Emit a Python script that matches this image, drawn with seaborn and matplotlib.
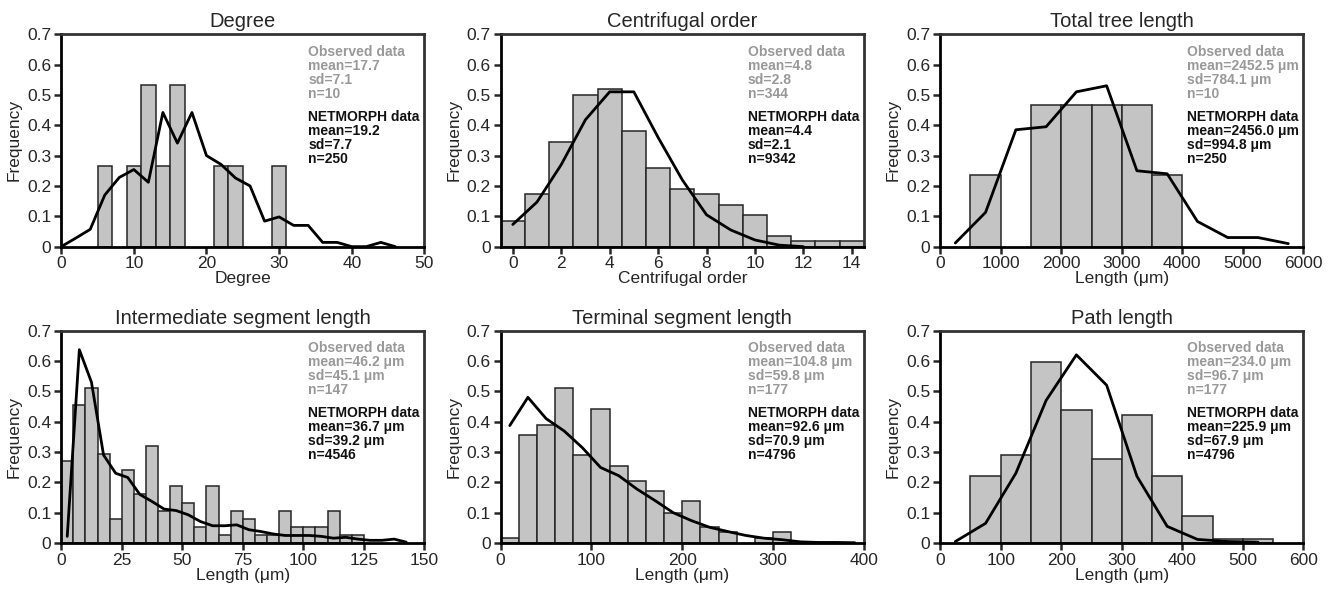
import numpy as np
import matplotlib
matplotlib.use("Agg")
import matplotlib.pyplot as plt
import seaborn as sns

sns.set_style("ticks")
plt.rcParams['font.family'] = ['Liberation Sans', 'DejaVu Sans']

# ---- Degree ----
deg_bin_centers = [6, 8, 10, 12, 14, 16, 18, 20, 22, 24, 26, 28, 30]
deg_bin_freq = [0.267, 0, 0.267, 0.533, 0.267, 0.533, 0, 0, 0.267, 0.267, 0, 0, 0.267]
deg_line_x = [0, 2, 4, 6, 8, 10, 12, 14, 16, 18, 20, 22, 24, 26, 28, 30, 32, 34, 36, 38, 40, 42, 44, 46]
deg_line_y = [0.0, 0.028, 0.057, 0.17, 0.228, 0.254, 0.212, 0.442, 0.341, 0.442, 0.30, 0.271,
              0.226, 0.20, 0.084, 0.098, 0.07, 0.07, 0.014, 0.014, 0.0, 0.0, 0.014, 0.0]

# ---- Centrifugal order ----
co_bin_centers = [0, 1, 2, 3, 4, 5, 6, 7, 8, 9, 10, 11, 12, 13, 14]
co_bin_freq = [0.086, 0.173, 0.346, 0.50, 0.52, 0.38, 0.26, 0.19, 0.173, 0.138, 0.104,
               0.035, 0.017, 0.017, 0.017]
co_line_x = [0, 1, 2, 3, 4, 5, 6, 7, 8, 9, 10, 11, 12]
co_line_y = [0.073, 0.147, 0.27, 0.418, 0.51, 0.51, 0.36, 0.22, 0.105, 0.055, 0.022, 0.005, 0.0]

# ---- Total tree length ----
ttl_bin_centers = [750, 1250, 1750, 2250, 2750, 3250, 3750]
ttl_bin_freq = [0.235, 0, 0.467, 0.467, 0.467, 0.467, 0.235]
ttl_line_x = [250, 750, 1250, 1750, 2250, 2750, 3250, 3750, 4250, 4750, 5250, 5750]
ttl_line_y = [0.012, 0.113, 0.385, 0.395, 0.51, 0.53, 0.25, 0.24, 0.083, 0.03, 0.03, 0.01]

# ---- Intermediate segment length ----
isl_bin_centers = [2.5, 7.5, 12.5, 17.5, 22.5, 27.5, 32.5, 37.5, 42.5, 47.5, 52.5, 57.5, 62.5,
                   67.5, 72.5, 77.5, 82.5, 87.5, 92.5, 97.5, 102.5, 107.5, 112.5, 117.5, 122.5]
isl_bin_freq = [0.27, 0.455, 0.51, 0.295, 0.08, 0.24, 0.16, 0.32, 0.107, 0.187, 0.133, 0.053,
                0.187, 0.027, 0.107, 0.08, 0.027, 0.027, 0.107, 0.053, 0.053, 0.053, 0.107,
                0.027, 0.027]
isl_line_x = [2.5, 7.5, 12.5, 17.5, 22.5, 27.5, 32.5, 37.5, 42.5, 47.5, 52.5, 57.5, 62.5, 67.5,
              72.5, 77.5, 82.5, 87.5, 92.5, 97.5, 102.5, 107.5, 112.5, 117.5, 122.5, 127.5,
              132.5, 137.5, 142.5]
isl_line_y = [0.022, 0.637, 0.53, 0.29, 0.23, 0.216, 0.16, 0.137, 0.112, 0.107, 0.093, 0.071,
              0.057, 0.057, 0.06, 0.044, 0.038, 0.03, 0.025, 0.025, 0.025, 0.022, 0.016, 0.019,
              0.013, 0.009, 0.009, 0.013, 0.003]

# ---- Terminal segment length ----
tsl_bin_centers = [10, 30, 50, 70, 90, 110, 130, 150, 170, 190, 210, 230, 250, 270, 290, 310]
tsl_bin_freq = [0.018, 0.357, 0.39, 0.51, 0.29, 0.443, 0.255, 0.205, 0.17, 0.10, 0.137,
                0.052, 0.035, 0, 0.017, 0.035]
tsl_line_x = [10, 30, 50, 70, 90, 110, 130, 150, 170, 190, 210, 230, 250, 270, 290, 310,
              330, 350, 370, 390]
tsl_line_y = [0.387, 0.48, 0.41, 0.369, 0.314, 0.249, 0.222, 0.178, 0.14, 0.10, 0.074, 0.052,
              0.038, 0.025, 0.016, 0.011, 0.004, 0.002, 0.002, 0.001]

# ---- Path length ----
pl_bin_centers = [75, 125, 175, 225, 275, 325, 375, 425, 475, 525]
pl_bin_freq = [0.22, 0.29, 0.597, 0.437, 0.277, 0.423, 0.22, 0.088, 0.015, 0.015]
pl_line_x = [25, 75, 125, 175, 225, 275, 325, 375, 425, 475, 525]
pl_line_y = [0.005, 0.065, 0.23, 0.47, 0.62, 0.52, 0.22, 0.055, 0.012, 0.005, 0.003]

titles = ["Degree", "Centrifugal order", "Total tree length",
          "Intermediate segment length", "Terminal segment length", "Path length"]
xlabels = ["Degree", "Centrifugal order", "Length (\u03bcm)",
           "Length (\u03bcm)", "Length (\u03bcm)", "Length (\u03bcm)"]
observed_stats = [
    ["Observed data", "mean=17.7", "sd=7.1", "n=10"],
    ["Observed data", "mean=4.8", "sd=2.8", "n=344"],
    ["Observed data", "mean=2452.5 \u03bcm", "sd=784.1 \u03bcm", "n=10"],
    ["Observed data", "mean=46.2 \u03bcm", "sd=45.1 \u03bcm", "n=147"],
    ["Observed data", "mean=104.8 \u03bcm", "sd=59.8 \u03bcm", "n=177"],
    ["Observed data", "mean=234.0 \u03bcm", "sd=96.7 \u03bcm", "n=177"],
]
netmorph_stats = [
    ["NETMORPH data", "mean=19.2", "sd=7.7", "n=250"],
    ["NETMORPH data", "mean=4.4", "sd=2.1", "n=9342"],
    ["NETMORPH data", "mean=2456.0 \u03bcm", "sd=994.8 \u03bcm", "n=250"],
    ["NETMORPH data", "mean=36.7 \u03bcm", "sd=39.2 \u03bcm", "n=4546"],
    ["NETMORPH data", "mean=92.6 \u03bcm", "sd=70.9 \u03bcm", "n=4796"],
    ["NETMORPH data", "mean=225.9 \u03bcm", "sd=67.9 \u03bcm", "n=4796"],
]

panels = [
    (deg_bin_centers, deg_bin_freq, deg_line_x, deg_line_y, 2, (0, 50), np.arange(0, 51, 10)),
    (co_bin_centers, co_bin_freq, co_line_x, co_line_y, 1, (-0.5, 14.5), np.arange(0, 15, 2)),
    (ttl_bin_centers, ttl_bin_freq, ttl_line_x, ttl_line_y, 500, (0, 6000), np.arange(0, 6001, 1000)),
    (isl_bin_centers, isl_bin_freq, isl_line_x, isl_line_y, 5, (0, 150), np.arange(0, 151, 25)),
    (tsl_bin_centers, tsl_bin_freq, tsl_line_x, tsl_line_y, 20, (0, 400), np.arange(0, 401, 100)),
    (pl_bin_centers, pl_bin_freq, pl_line_x, pl_line_y, 50, (0, 600), np.arange(0, 601, 100)),
]

fig, axes = plt.subplots(2, 3, figsize=(13.3, 5.89), dpi=100)
fig.subplots_adjust(left=0.046, right=0.98, top=0.942, bottom=0.078, wspace=0.21, hspace=0.395)

yticks = [0, 0.1, 0.2, 0.3, 0.4, 0.5, 0.6, 0.7]
yticklabels = ["0", "0.1", "0.2", "0.3", "0.4", "0.5", "0.6", "0.7"]

for i, ax in enumerate(axes.flat):
    centers, freq, lx, ly, bw, xlim, xticks = panels[i]
    lo = min(centers) - bw / 2
    hi = max(centers) + bw / 2
    sns.histplot(x=centers, weights=freq, binwidth=bw, binrange=(lo, hi), stat="count",
                 color="#c4c4c4", edgecolor="#262626", linewidth=1.1, alpha=1, ax=ax)
    # empty bins would show as flat lines on the axis
    for p in ax.patches:
        if p.get_height() <= 0:
            p.set_visible(False)
    sns.lineplot(x=lx, y=ly, color="black", linewidth=2, ax=ax)

    ax.set_xlim(*xlim)
    ax.set_ylim(0, 0.7)
    ax.set_xticks(xticks)
    ax.set_yticks(yticks)
    ax.set_yticklabels(yticklabels)
    ax.tick_params(labelsize=12.5, length=5, width=1.8, pad=2)
    ax.set_title(titles[i], fontsize=14.5, pad=5)
    ax.set_xlabel(xlabels[i], fontsize=12.5, labelpad=0)
    ax.set_ylabel("Frequency", fontsize=12.5, labelpad=4)
    for s in ax.spines.values():
        s.set_visible(True)
        s.set_linewidth(2)
        s.set_color("black")
    ax.spines["top"].set_color("#333333")
    ax.spines["right"].set_color("#333333")

    ax.text(0.68, 0.95, "\n".join(observed_stats[i]), transform=ax.transAxes,
            ha="left", va="top", fontsize=10, fontweight="bold", color="#999999",
            linespacing=1.0)
    ax.text(0.68, 0.645, "\n".join(netmorph_stats[i]), transform=ax.transAxes,
            ha="left", va="top", fontsize=10, fontweight="bold", color="#111111",
            linespacing=1.0)

plt.savefig("out.png", dpi=100)
plt.close()
